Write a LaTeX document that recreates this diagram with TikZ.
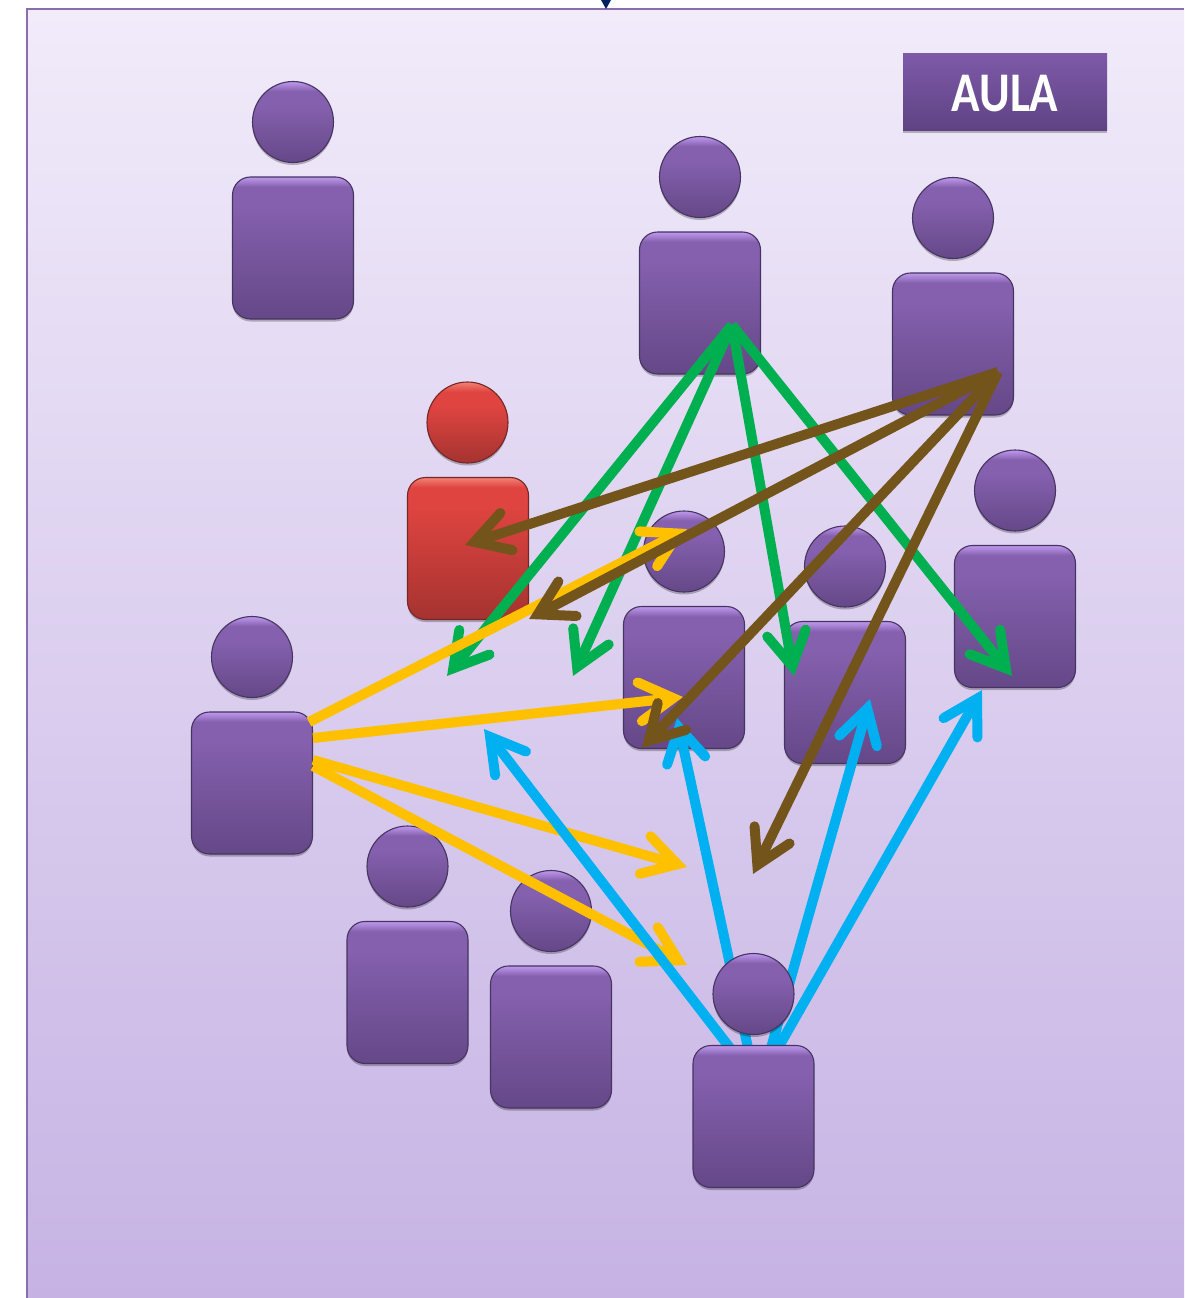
\documentclass[tikz,border=0pt]{standalone}
\usepackage{fontspec}
\usepackage{graphicx}
\usetikzlibrary{arrows.meta,shadows}
\setmainfont{Carlito}
\definecolor{bgtop}{HTML}{F1EBFA}
\definecolor{bgbot}{HTML}{C6B3E4}
\definecolor{frameline}{HTML}{8A6DAE}
\definecolor{navy}{HTML}{002060}
\definecolor{pedge}{HTML}{463461}
\definecolor{redge}{HTML}{742724}
\definecolor{agreen}{HTML}{00B050}
\definecolor{ayellow}{HTML}{FFC000}
\definecolor{ablue}{HTML}{00B0F0}
\definecolor{abrown}{HTML}{73541A}
\definecolor{p1}{HTML}{654888}
\definecolor{p2}{HTML}{8560AE}
\definecolor{p3}{HTML}{8560AE}
\definecolor{p4}{HTML}{BA94E8}
\definecolor{r1}{HTML}{A53330}
\definecolor{r2}{HTML}{DF4440}
\definecolor{r3}{HTML}{DF4440}
\definecolor{r4}{HTML}{F27C72}
\definecolor{HTMLaulatop}{HTML}{7E59A8}
\definecolor{HTMLaulabot}{HTML}{5E4383}
\pgfdeclareverticalshading{torsoshade}{100bp}{
 color(0bp)=(p1); color(25bp)=(p1); color(65bp)=(p2); color(71.5bp)=(p3); color(74.7bp)=(p4); color(75bp)=(p4); color(100bp)=(p4)}
\pgfdeclareverticalshading{headshade}{100bp}{
 color(0bp)=(p1); color(25bp)=(p1); color(60bp)=(p2); color(69bp)=(p3); color(74.5bp)=(p4); color(75bp)=(p4); color(100bp)=(p4)}
\pgfdeclareverticalshading{torsoshadered}{100bp}{
 color(0bp)=(r1); color(25bp)=(r1); color(65bp)=(r2); color(71.5bp)=(r3); color(74.7bp)=(r4); color(75bp)=(r4); color(100bp)=(r4)}
\pgfdeclareverticalshading{headshadered}{100bp}{
 color(0bp)=(r1); color(25bp)=(r1); color(60bp)=(r2); color(69bp)=(r3); color(74.5bp)=(r4); color(75bp)=(r4); color(100bp)=(r4)}
% open arrowhead with a mitred point and round barb ends
\pgfdeclarearrow{
 name=BarbTip,
 setup code={
  \pgfarrowssettipend{0pt}
  \pgfarrowssetvisualtipend{0pt}
  \pgfarrowssetlineend{-14pt}
  \pgfarrowssetbackend{-46pt}
  \pgfarrowssetvisualbackend{-46pt}
  \pgfarrowshullpoint{0pt}{0pt}
  \pgfarrowshullpoint{-46pt}{24pt}
  \pgfarrowshullpoint{-46pt}{-24pt}
 },
 drawing code={
  \pgfsetlinewidth{10pt}
  \pgfsetroundcap
  \pgfsetmiterjoin
  \pgfpathmoveto{\pgfqpoint{-43.5pt}{19.5pt}}
  \pgfpathlineto{\pgfqpoint{-10pt}{0pt}}
  \pgfpathlineto{\pgfqpoint{-43.5pt}{-19.5pt}}
  \pgfusepathqstroke
 }
}
\tikzset{
 softshadow/.style={drop shadow={shadow xshift=0pt,shadow yshift=-2.5pt,opacity=.25,fill=black}},
 torso/.style={rectangle,rounded corners=18pt,minimum width=121pt,minimum height=142pt,inner sep=0pt,draw=pedge,line width=1.1pt,softshadow,shading=torsoshade},
 head/.style={circle,minimum size=81pt,inner sep=0pt,draw=pedge,line width=1.1pt,softshadow,shading=headshade},
 redtorso/.style={torso,draw=redge,shading=torsoshadered},
 redhead/.style={head,draw=redge,shading=headshadered},
 arr/.style={line width=10pt,-{BarbTip}},
 greenarr/.style={arr,draw=agreen},
 yellowarr/.style={arr,draw=ayellow},
 bluearr/.style={arr,draw=ablue},
 brownarr/.style={arr,draw=abrown},
 aula/.style={rectangle,minimum width=204pt,minimum height=77pt,inner sep=0pt,top color=HTMLaulatop,bottom color=HTMLaulabot,softshadow},
 aulatext/.style={inner sep=0pt,text=white,font=\fontsize{56}{60}\selectfont\bfseries},
}
\newcommand{\person}[3]{\node[torso] (#1) at (#2,#3) {};\node[head] (#1h) at (#2,#3-126) {};}
\begin{document}
\begin{tikzpicture}[x=1pt,y=-1pt]
\useasboundingbox (0,0) rectangle (1184,1298);
\fill[white] (0,0) rectangle (1184,1298);
\fill[top color=bgtop,bottom color=bgbot] (27,9) rectangle (1184,1298);
\draw[frameline,line width=1.6pt] (27,1298) -- (27,9) -- (1184,9);
\fill[navy] (601,0) -- (611,0) -- (606,9) -- cycle;
\node[aula] (aula) at (1005,92) {};
\node[aulatext] (aulatxt) at (1005,94) {\scalebox{.84}[1]{AULA}};
% people under the arrows
\person{pa}{293}{248}
\person{pb}{700}{303}
\person{pc}{953}{344}
\node[redtorso] (pr) at (468,548.5) {};
\node[redhead] (prh) at (467.5,422.5) {};
\person{pe}{684}{677.5}
\person{pf}{845}{692.5}
\person{pg}{1015}{616.5}
\person{ph}{252}{783}
\person{pi}{407.5}{992.5}
\person{pj}{551}{1037}
% arrow ends
\coordinate (g0) at (732,325);
\coordinate (g1) at (447,676);
\coordinate (g2) at (573,676);
\coordinate (g3) at (794,676);
\coordinate (g4) at (1012,676);
\coordinate (y1s) at (309,722);
\coordinate (y2s) at (313,738);
\coordinate (y3s) at (313,760);
\coordinate (y4s) at (313,766);
\coordinate (y1) at (687,529);
\coordinate (y2) at (683,697);
\coordinate (y3) at (687,867);
\coordinate (y4) at (687,965);
\coordinate (b1s) at (730,1048);
\coordinate (b2s) at (748,1048);
\coordinate (b3s) at (771,1048);
\coordinate (b4s) at (778,1048);
\coordinate (b1) at (484,729);
\coordinate (b2) at (677,718);
\coordinate (b3) at (870,699);
\coordinate (b4) at (982,690);
\coordinate (k0) at (998,372);
\coordinate (k1) at (465,545);
\coordinate (k2) at (529,619);
\coordinate (k3) at (642,748);
\coordinate (k4) at (753,874);
\foreach \t in {g1,g2,g3,g4} \draw[greenarr] (g0) -- (\t);
\draw[yellowarr] (y1s) -- (y1);
\draw[yellowarr] (y2s) -- (y2);
\draw[yellowarr] (y3s) -- (y3);
\draw[yellowarr] (y4s) -- (y4);
\draw[bluearr] (b1s) -- (b1);
\draw[bluearr] (b2s) -- (b2);
\draw[bluearr] (b3s) -- (b3);
\draw[bluearr] (b4s) -- (b4);
\node[torso] (pk) at (753.5,1116.5) {};
\node[head] (pkh) at (753.5,994) {};
\foreach \t in {k1,k2,k3,k4} \draw[brownarr] (k0) -- (\t);
\end{tikzpicture}
\end{document}
